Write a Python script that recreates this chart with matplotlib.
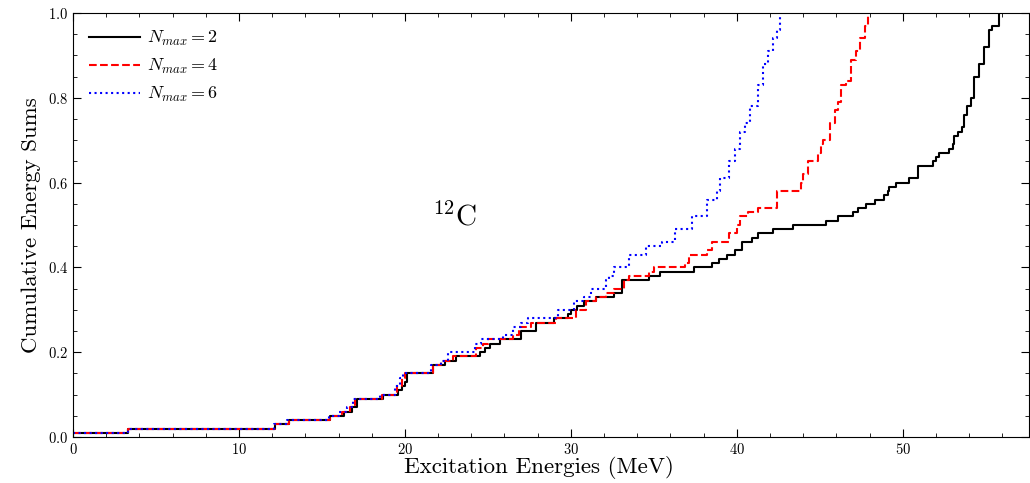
import matplotlib
matplotlib.use("Agg")
import matplotlib.pyplot as plt
from matplotlib.ticker import MultipleLocator

plt.rcParams['font.family'] = ['cmr10', 'DejaVu Serif']
plt.rcParams['mathtext.fontset'] = 'cm'
plt.rcParams['axes.formatter.use_mathtext'] = True
plt.rcParams['axes.unicode_minus'] = False

# step positions (MeV) and cumulative sums after each step
energies_n2 = [0, 3.3, 12.2, 13.0, 15.5, 16.3, 16.8, 17.1, 18.7, 19.6, 19.8, 20.0, 20.1,
               21.7, 22.4, 23.1, 24.5, 24.8, 25.1, 25.7, 27.0, 27.9, 29.0, 29.8, 30.0,
               30.4, 30.8, 31.5, 32.6, 33.1, 34.7, 35.4, 37.4, 38.5, 38.9, 39.4, 39.9,
               40.3, 40.9, 41.3, 42.2, 43.4, 45.4, 46.1, 47.0, 47.3, 47.8, 48.3, 48.9,
               49.1, 49.2, 49.6, 50.4, 50.9, 51.8, 52.0, 52.2, 52.8, 53.0, 53.1, 53.3,
               53.6, 53.7, 53.9, 54.1, 54.3, 54.6, 54.9, 55.2, 55.4, 55.8]
sums_n2 = [0.01, 0.02, 0.03, 0.04, 0.05, 0.06, 0.07, 0.09, 0.10, 0.11, 0.12, 0.13, 0.15,
           0.17, 0.18, 0.19, 0.20, 0.21, 0.22, 0.23, 0.25, 0.27, 0.28, 0.29, 0.30,
           0.31, 0.32, 0.33, 0.34, 0.37, 0.38, 0.39, 0.40, 0.41, 0.42, 0.43, 0.44,
           0.46, 0.47, 0.48, 0.49, 0.50, 0.51, 0.52, 0.53, 0.54, 0.55, 0.56, 0.57,
           0.58, 0.59, 0.60, 0.61, 0.64, 0.65, 0.66, 0.67, 0.68, 0.69, 0.71, 0.72,
           0.73, 0.76, 0.78, 0.80, 0.85, 0.88, 0.92, 0.96, 0.97, 1.00]

energies_n4 = [0, 3.3, 12.2, 13.0, 15.5, 16.2, 16.7, 17.0, 18.6, 19.5, 19.8, 20.0,
               21.7, 22.2, 22.9, 24.3, 24.7, 25.0, 26.5, 26.9, 27.6, 29.1, 30.3, 30.9,
               31.5, 32.1, 32.6, 33.2, 33.5, 34.7, 35.0, 36.9, 37.1, 38.2, 38.5, 39.5,
               40.0, 40.2, 40.7, 41.3, 42.4, 43.85, 44.0, 44.3, 44.9, 45.05, 45.2, 45.6,
               45.9, 46.1, 46.3, 46.6, 46.9, 47.2, 47.4, 47.7, 47.9]
sums_n4 = [0.01, 0.02, 0.03, 0.04, 0.05, 0.06, 0.07, 0.09, 0.10, 0.12, 0.14, 0.15,
           0.17, 0.18, 0.19, 0.21, 0.22, 0.23, 0.24, 0.26, 0.27, 0.28, 0.30, 0.32,
           0.33, 0.34, 0.35, 0.37, 0.38, 0.39, 0.40, 0.41, 0.43, 0.44, 0.46, 0.48,
           0.50, 0.52, 0.53, 0.54, 0.58, 0.60, 0.62, 0.65, 0.67, 0.69, 0.70, 0.74,
           0.77, 0.79, 0.83, 0.84, 0.89, 0.91, 0.94, 0.97, 1.00]

energies_n6 = [0, 3.3, 12.1, 12.9, 15.4, 16.0, 16.5, 16.9, 18.5, 19.4, 19.7, 19.9,
               21.6, 22.2, 22.6, 24.2, 24.6, 25.9, 26.5, 27.0, 27.4, 29.2, 30.2, 30.8,
               31.2, 32.1, 32.3, 32.6, 33.5, 34.5, 35.5, 36.3, 37.3, 38.2, 38.8, 39.0,
               39.5, 39.9, 40.2, 40.5, 40.8, 41.3, 41.6, 41.9, 42.2, 42.4, 42.6]
sums_n6 = [0.01, 0.02, 0.03, 0.04, 0.05, 0.06, 0.07, 0.09, 0.10, 0.12, 0.14, 0.15,
           0.17, 0.18, 0.20, 0.22, 0.23, 0.24, 0.26, 0.27, 0.28, 0.30, 0.32, 0.33,
           0.35, 0.37, 0.38, 0.40, 0.43, 0.45, 0.46, 0.49, 0.52, 0.56, 0.58, 0.61,
           0.65, 0.68, 0.72, 0.74, 0.78, 0.83, 0.88, 0.91, 0.94, 0.96, 1.00]

fig = plt.figure(figsize=(10.3, 4.83), dpi=100)
ax = fig.add_axes([0.0709, 0.0952, 0.928, 0.878])

ax.step(energies_n2, sums_n2, where='post', color='black', lw=1.5, ls='-', label=r'$N_{max} = 2$')
ax.step(energies_n4, sums_n4, where='post', color='red', lw=1.5, ls='--', label=r'$N_{max} = 4$')
ax.step(energies_n6, sums_n6, where='post', color='blue', lw=1.5, ls=':', label=r'$N_{max} = 6$')

ax.text(23.0, 0.52, r'$^{12}$C', fontsize=21, ha='center', va='center')

ax.set_xlim(0, 57.6)
ax.set_ylim(0, 1.0)
ax.set_xlabel('Excitation Energies (MeV)', fontsize=16.6)
ax.xaxis.set_label_coords(0.487, -0.045, transform=ax.transAxes)
ax.xaxis.label.set_va('top')
ax.set_ylabel('Cumulative Energy Sums', fontsize=16.5, labelpad=5)

ax.xaxis.set_major_locator(MultipleLocator(10))
ax.xaxis.set_minor_locator(MultipleLocator(2))
ax.yaxis.set_major_locator(MultipleLocator(0.2))
ax.yaxis.set_minor_locator(MultipleLocator(0.05))
ax.tick_params(which='both', direction='in', top=True, right=True, labelsize=10.5)
ax.tick_params(which='major', length=6)
ax.tick_params(which='minor', length=3)

ax.legend(loc='upper left', frameon=False, fontsize=13, handlelength=2.8,
          handletextpad=0.4, borderaxespad=0.5)

fig.savefig('out.png', dpi=100)
